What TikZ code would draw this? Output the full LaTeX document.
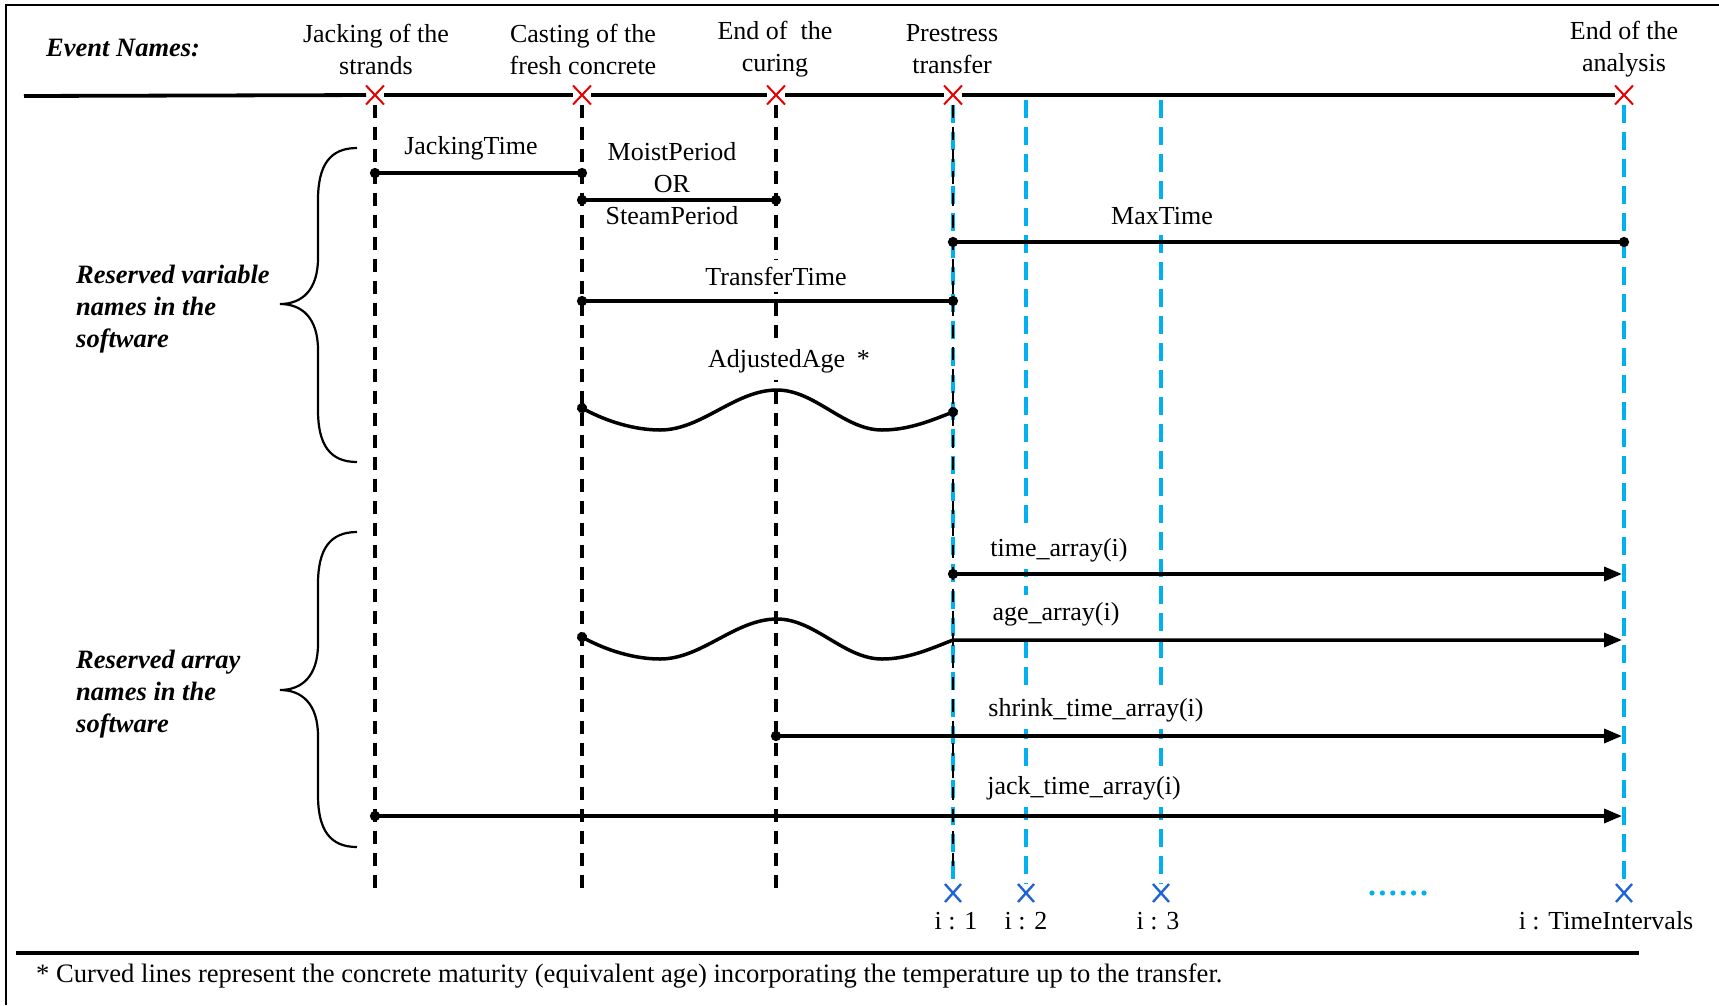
\documentclass[tikz,border=0pt]{standalone}
\usepackage{fontspec}
\setmainfont{Liberation Serif}
\usetikzlibrary{arrows.meta,shapes.misc}
\definecolor{tick}{RGB}{0,176,240}
\definecolor{markblue}{RGB}{30,100,215}
\definecolor{markred}{RGB}{230,0,0}
\begin{document}
\begin{tikzpicture}[x=1pt,y=-1pt,
  txt/.style={font=\fontsize{26}{32}\selectfont, inner sep=0pt, align=center},
  lbl/.style={font=\fontsize{26}{32}\selectfont, fill=white, inner xsep=14pt, inner ysep=7pt},
  grp/.style={font=\fontsize{26.5}{32}\selectfont\bfseries\itshape, align=left, anchor=west, inner sep=0pt},
  evmark/.style={cross out, draw=markred, line width=2pt, minimum width=10pt, minimum height=11pt, inner sep=0pt, outer sep=4pt},
  imark/.style={cross out, draw=markblue, line width=2.4pt, minimum width=10pt, minimum height=12pt, inner sep=0pt, outer sep=3pt},
  evline/.style={line width=3.5pt, dash pattern=on 13pt off 9pt},
  iline/.style={draw=tick, line width=3.3pt, dash pattern=on 18pt off 9pt},
  bar/.style={line width=3.5pt, {Circle[length=10pt]}-{Circle[length=10pt]}, shorten <=-5pt, shorten >=-5pt},
  arr/.style={line width=3.5pt, {Circle[length=10pt]}-{Triangle[length=18pt,width=14pt]}, shorten <=-5pt},
  brace/.style={line width=2.2pt}
]
\useasboundingbox (0,0) rectangle (1719,1005);

% outer frame (top and left edges)
\draw[line width=2.5pt] (6,1005) -- (6,5) -- (1719,5);

% ---------- event time line ----------
\node[grp, font=\fontsize{26.5}{32}\selectfont\bfseries\itshape] (evnames) at (46,48) {Event Names:};
\node[txt] (lab1) at (376,49) {Jacking of the\\strands};
\node[txt] (lab2) at (583,49) {Casting of the\\fresh concrete};
\node[txt] (lab3) at (775,49) {End of \ the\\curing};
\node[txt] (lab4) at (952,49) {Prestress\\transfer};
\node[txt] (lab5) at (1624,49) {End of the\\analysis};

\coordinate (tl) at (24,96);
\node[evmark] (ev1) at (375,95) {};
\node[evmark] (ev2) at (582,95) {};
\node[evmark] (ev3) at (776,95) {};
\node[evmark] (ev4) at (953,95) {};
\node[evmark] (ev5) at (1624,95) {};
\foreach \a/\b in {tl/ev1,ev1/ev2,ev2/ev3,ev3/ev4,ev4/ev5}
  \draw[line width=3.8pt] (\a) -- (\b);

% ---------- time step markers ----------
\coordinate (t2) at (1026,100);
\coordinate (t3) at (1161,100);
\node[imark] (b1) at (953,893) {};
\node[imark] (b2) at (1026,893) {};
\node[imark] (b3) at (1161,893) {};
\node[imark] (b4) at (1624,893) {};
\draw[iline] (ev4.south) -- (b1.north);
\draw[iline] (t2) -- (b2.north);
\draw[iline] (t3) -- (b3.north);
\draw[iline] (ev5.south) -- (b4.north);
\foreach \k in {0,...,5}
  \fill[tick] (1372+10.4*\k,893) circle (2.6pt);
\node[txt] (i1) at (956,921) {i : 1};
\node[txt] (i2) at (1026,921) {i : 2};
\node[txt] (i3) at (1158,921) {i : 3};
\node[txt] (i4) at (1606,921) {i : TimeIntervals};

% ---------- event verticals ----------
\coordinate (e1) at (375,893);
\coordinate (e2) at (582,893);
\coordinate (e3) at (776,893);
\coordinate (e4) at (953,872);
\draw[evline] (ev1.south) -- (e1);
\draw[evline] (ev2.south) -- (e2);
\draw[evline] (ev3.south) -- (e3);
\draw[evline, line width=2.6pt] (ev4.south) -- (e4);

% ---------- braces and group names ----------
\draw[brace] (357,148) .. controls (330,148) and (318,165) .. (318,200) -- (318,258)
  .. controls (318,290) and (302,304) .. (280,304)
  .. controls (302,304) and (318,318) .. (318,350) -- (318,410)
  .. controls (318,445) and (330,462) .. (357,462);
\draw[brace] (357,532) .. controls (330,532) and (318,549) .. (318,584) -- (318,644)
  .. controls (318,676) and (302,690) .. (280,690)
  .. controls (302,690) and (318,704) .. (318,736) -- (318,795)
  .. controls (318,830) and (330,847) .. (357,847);
\node[grp] (gvar) at (76,309) {Reserved variable\\names in the\\software};
\node[grp] (garr) at (76,694) {Reserved array\\names in the\\software};

% ---------- variable names ----------
\node[txt] (njack) at (471,148) {JackingTime};
\node[txt] (nmoist) at (672,152) {MoistPeriod};
\node[txt] (nor) at (672,184) {OR};
\node[txt] (nsteam) at (672,216) {SteamPeriod};
\node[lbl] (nmax) at (1162,216) {MaxTime};
\node[lbl] (ntrans) at (776,276) {TransferTime};
\node[lbl] (nadj) at (789,361) {AdjustedAge\hspace{0.45em}*};

\coordinate (jt1) at (375,173);  \coordinate (jt2) at (582,173);
\coordinate (mp1) at (582,200);  \coordinate (mp2) at (776,200);
\coordinate (mx1) at (953,242);  \coordinate (mx2) at (1624,242);
\coordinate (tt1) at (582,301);  \coordinate (tt2) at (953,301);
\coordinate (aa1) at (582,408);  \coordinate (aa2) at (953,412);
\draw[bar] (jt1) -- (jt2);
\draw[bar] (mp1) -- (mp2);
\draw[bar] (mx1) -- (mx2);
\draw[bar] (tt1) -- (tt2);
\draw[bar] (aa1) .. controls (606,421) and (634,430) .. (660,430)
  .. controls (702,430) and (735,390) .. (777,390)
  .. controls (815,390) and (844,430) .. (882,430)
  .. controls (908,430) and (930,421) .. (aa2);

% ---------- array names ----------
\node[lbl] (ntime) at (1059,550) {time\_array(i)};
\node[lbl] (nage) at (1056,614) {age\_array(i)};
\node[lbl] (nshr) at (1096,710) {shrink\_time\_array(i)};
\node[lbl] (njta) at (1084,788) {jack\_time\_array(i)};

\coordinate (ta1) at (953,574);  \coordinate (ta2) at (1622,574);
\coordinate (ag1) at (582,637);  \coordinate (ag2) at (953,640);  \coordinate (ag3) at (1622,640);
\coordinate (sh1) at (776,736);  \coordinate (sh2) at (1622,736);
\coordinate (jk1) at (375,816);  \coordinate (jk2) at (1622,816);
\draw[arr] (ta1) -- (ta2);
\draw[arr] (ag1) .. controls (606,650) and (634,659) .. (660,659)
  .. controls (702,659) and (735,619) .. (777,619)
  .. controls (815,619) and (844,659) .. (882,659)
  .. controls (908,659) and (930,649) .. (ag2) -- (ag3);
\draw[arr] (sh1) -- (sh2);
\draw[arr] (jk1) -- (jk2);

% ---------- footnote ----------
\coordinate (s1) at (16,953);
\coordinate (s2) at (1639,953);
\draw[line width=3.8pt] (s1) -- (s2);
\node[anchor=west, inner sep=0pt, font=\fontsize{26.6}{32}\selectfont] (foot) at (36,976)
  {* Curved lines represent the concrete maturity (equivalent age) incorporating the temperature up to the transfer.};
\end{tikzpicture}
\end{document}
